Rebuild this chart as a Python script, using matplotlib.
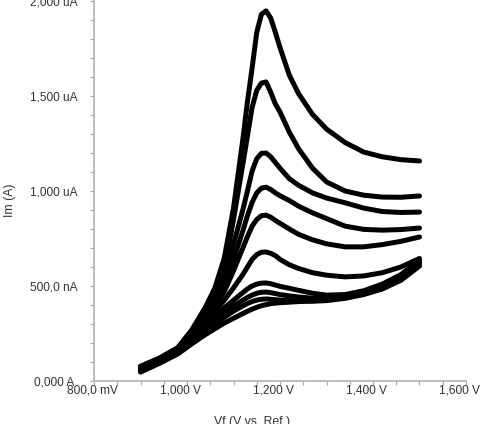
import matplotlib
matplotlib.use("Agg")
import matplotlib.pyplot as plt
import matplotlib.transforms as mtransforms
from matplotlib.ticker import FixedLocator, MultipleLocator

# potential of each sample (V vs. Ref.)
vf = [0.90, 0.94, 0.98, 1.01, 1.04, 1.06, 1.08, 1.10, 1.12, 1.13, 1.14, 1.15, 1.16,
      1.17, 1.18, 1.19, 1.20, 1.22, 1.24, 1.27, 1.30, 1.34, 1.38, 1.42, 1.46, 1.50]

# current of each sweep, uA
im_1 = [78, 120, 175, 268, 390, 490, 645, 910, 1270, 1470, 1647, 1835, 1930,
        1948, 1910, 1835, 1755, 1610, 1512, 1403, 1326, 1255, 1205, 1180, 1165, 1158]
im_2 = [75, 118, 172, 262, 375, 460, 580, 850, 1140, 1290, 1440, 1530, 1568,
        1574, 1520, 1458, 1416, 1310, 1222, 1120, 1048, 1000, 978, 968, 967, 974]
im_3 = [72, 116, 170, 255, 360, 440, 550, 720, 900, 1000, 1105, 1170, 1198,
        1200, 1180, 1150, 1120, 1065, 1030, 990, 963, 938, 910, 892, 887, 889]
im_4 = [68, 113, 167, 250, 345, 415, 505, 640, 790, 870, 940, 990, 1015,
        1020, 1008, 990, 975, 950, 920, 885, 855, 815, 798, 794, 797, 805]
im_5 = [64, 110, 163, 243, 330, 395, 470, 580, 700, 760, 815, 850, 870,
        873, 862, 845, 830, 800, 772, 743, 722, 706, 706, 718, 735, 758]
im_6 = [60, 106, 158, 235, 315, 370, 425, 490, 560, 600, 640, 665, 678,
        679, 672, 660, 640, 612, 592, 570, 557, 548, 553, 570, 600, 645]
im_7 = [56, 103, 154, 228, 300, 345, 385, 425, 465, 485, 500, 510, 515,
        516, 512, 505, 498, 488, 477, 462, 452, 455, 475, 510, 560, 637]
im_8 = [53, 100, 150, 220, 285, 325, 360, 395, 425, 440, 452, 462, 467,
        468, 465, 460, 455, 448, 442, 436, 435, 442, 462, 495, 545, 626]
im_9 = [50, 96, 146, 210, 265, 300, 335, 368, 395, 408, 418, 426, 430,
        432, 430, 428, 426, 423, 421, 420, 423, 435, 455, 485, 535, 616]
im_10 = [47, 92, 142, 195, 245, 275, 305, 330, 355, 367, 378, 388, 396,
         402, 407, 410, 412, 415, 418, 422, 428, 440, 458, 485, 530, 605]

x_ticks = [0.8, 1.0, 1.2, 1.4, 1.6]
x_tick_labels = ["800,0 mV", "1,000 V", "1,200 V", "1,400 V", "1,600 V"]
y_ticks = [0, 500, 1000, 1500, 2000]
y_tick_labels = ["0,000 A", "500,0 nA", "1,000 uA", "1,500 uA", "2,000 uA"]

plt.rcParams["font.family"] = ["Liberation Sans", "DejaVu Sans"]

fig = plt.figure(figsize=(4.88, 4.24), dpi=100)
ax = fig.add_axes([94 / 488, 43 / 424, 372 / 488, 380 / 424])

for im in (im_10, im_9, im_8, im_7, im_6, im_5, im_4, im_3, im_2, im_1):
    ax.plot(vf, im, color="black", lw=3.6, solid_capstyle="round",
            solid_joinstyle="round")

ax.set_xlim(0.8, 1.6)
ax.set_ylim(0, 2000)

for side in ("top", "right"):
    ax.spines[side].set_visible(False)
for side in ("left", "bottom"):
    ax.spines[side].set_color("#b8b8b8")
    ax.spines[side].set_linewidth(1.3)

ax.xaxis.set_major_locator(FixedLocator(x_ticks))
ax.xaxis.set_minor_locator(MultipleLocator(0.05))
ax.yaxis.set_major_locator(FixedLocator(y_ticks))
ax.yaxis.set_minor_locator(MultipleLocator(100))
ax.set_xticklabels(x_tick_labels)
ax.set_yticklabels(y_tick_labels)

ax.tick_params(which="both", length=3, width=0.8, color="#a8a8a8",
               labelsize=8.6, labelcolor="#333333")
ax.tick_params(axis="x", pad=-0.5)
ax.tick_params(axis="y", pad=26)

plt.setp(ax.get_yticklabels(), ha="center")
shift = mtransforms.ScaledTranslation(-27 / 100, 0, fig.dpi_scale_trans)
for lab in ax.get_xticklabels():
    lab.set_ha("left")
    lab.set_transform(lab.get_transform() + shift)

ax.set_xlabel("Vf (V vs. Ref.)", fontsize=8.8, color="#333333")
ax.set_ylabel("Im (A)", fontsize=8.8, color="#333333")
ax.xaxis.set_label_coords(0.425, -0.093)
ax.yaxis.set_label_coords(-0.21, 0.476)

fig.savefig("out.png", dpi=100)
